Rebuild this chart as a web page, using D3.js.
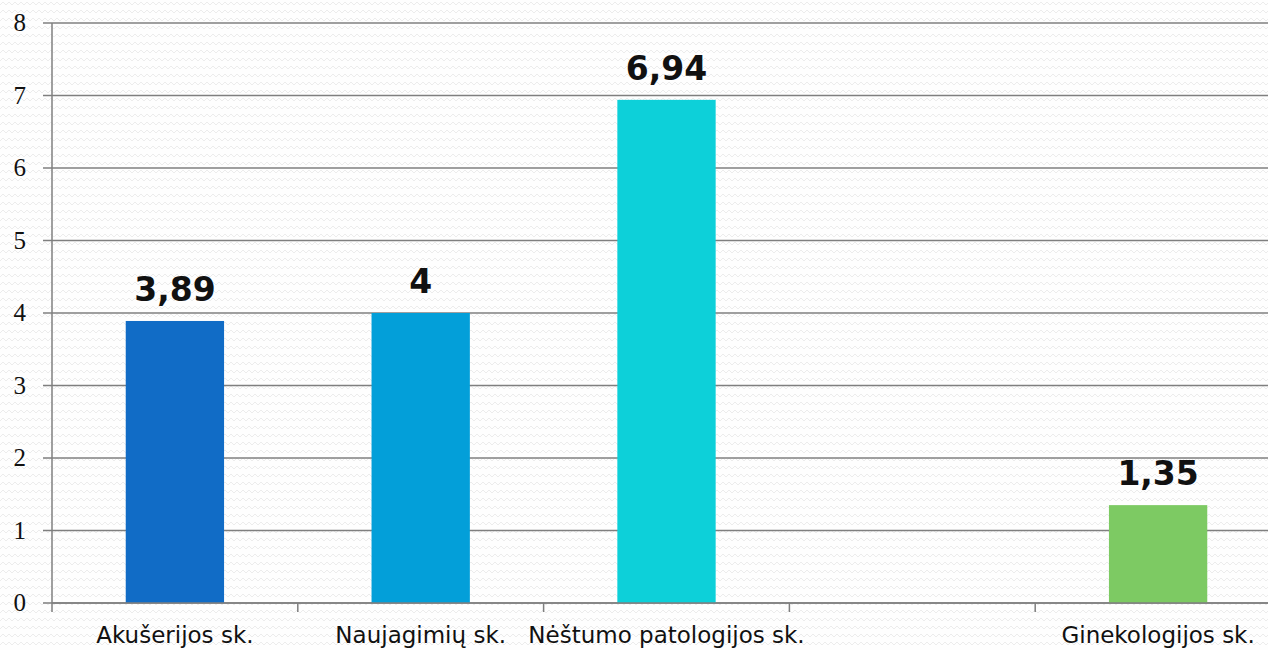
<!DOCTYPE html>
<html>
<head>
<meta charset="utf-8">
<script src="https://cdn.jsdelivr.net/npm/d3@7"></script>
<style>
  body { margin: 0; background: #fdfdfd; }
  svg { display: block; }
</style>
</head>
<body>
<svg id="chart" width="1268" height="650"></svg>
<script>
// data
categories = ['Akušerijos sk.', 'Naujagimių sk.', 'Nėštumo patologijos sk.', '', 'Ginekologijos sk.']
values = [3.89, 4, 6.94, null, 1.35]
valueLabels = ['3,89', '4', '6,94', '', '1,35']
barColors = ['#116cc6', '#039fd9', '#0dd0d9', '#ffffff', '#7dca63']
yTicks = [0, 1, 2, 3, 4, 5, 6, 7, 8]

svgWidth = 1268
svgHeight = 650
svg = d3.select('#chart')

// faint zigzag backdrop
defs = svg.append('defs')
pat = defs.append('pattern')
	.attr('id', 'zig')
	.attr('width', 12)
	.attr('height', 8)
	.attr('patternUnits', 'userSpaceOnUse')
pat.append('rect').attr('width', 12).attr('height', 8).attr('fill', '#fefefe')
pat.append('path')
	.attr('d', 'M0,5 L3,2 L6,5 L9,2 L12,5')
	.style('fill', 'none')
	.style('stroke', '#ececec')
	.attr('stroke-width', 1)
svg.append('rect').attr('width', svgWidth).attr('height', svgHeight).attr('fill', 'url(#zig)')

yScale = d3.scaleLinear()
	.domain([0, 8])
	.range([603, 23])

xScale = d3.scaleBand()
	.domain(d3.range(categories.length))
	.range([52, 1281])
	.paddingInner(0.6)
	.paddingOuter(0.3)

slotScale = d3.scaleBand()
	.domain(d3.range(categories.length))
	.range([52, 1281])

// gridlines
svg.append('g')
	.selectAll('line')
	.data(yTicks)
	.enter()
	.append('line')
	.attr('x1', 43)
	.attr('x2', svgWidth)
	.attr('y1', d => yScale(d))
	.attr('y2', d => yScale(d))
	.style('stroke', '#7f7f7f')
	.attr('stroke-width', 1.5)

// y tick labels
svg.append('g')
	.selectAll('text')
	.data(yTicks)
	.enter()
	.append('text')
	.attr('x', 26)
	.attr('y', d => yScale(d) + 8)
	.style('text-anchor', 'end')
	.style('font-family', '"Liberation Serif", "DejaVu Serif", serif')
	.style('font-size', '25px')
	.style('fill', '#111')
	.text(d => d)

// bars
svg.append('g')
	.selectAll('rect')
	.data(values)
	.enter()
	.filter(d => d != null)
	.append('rect')
	.attr('x', (d, i) => xScale(values.indexOf(d)))
	.attr('y', d => yScale(d))
	.attr('width', xScale.bandwidth())
	.attr('height', d => yScale(0) - yScale(d))
	.style('fill', d => barColors[values.indexOf(d)])

// axes lines drawn over bars
svg.append('line')
	.attr('x1', 52).attr('x2', 52)
	.attr('y1', yScale(8)).attr('y2', yScale(0) + 9)
	.style('stroke', '#7f7f7f').attr('stroke-width', 1.5)
svg.append('line')
	.attr('x1', 52).attr('x2', svgWidth)
	.attr('y1', yScale(0)).attr('y2', yScale(0))
	.style('stroke', '#7f7f7f').attr('stroke-width', 1.5)
svg.append('g')
	.selectAll('line')
	.data(d3.range(1, categories.length))
	.enter()
	.append('line')
	.attr('x1', d => slotScale(d))
	.attr('x2', d => slotScale(d))
	.attr('y1', yScale(0))
	.attr('y2', yScale(0) + 9)
	.style('stroke', '#7f7f7f')
	.attr('stroke-width', 1.5)

// value labels
svg.append('g')
	.selectAll('text')
	.data(values)
	.enter()
	.append('text')
	.attr('x', (d, i) => xScale(i) + xScale.bandwidth() / 2)
	.attr('y', d => d == null ? 0 : yScale(d) - 20)
	.style('text-anchor', 'middle')
	.style('font-family', '"DejaVu Sans", sans-serif')
	.style('font-weight', 'bold')
	.style('font-size', '33px')
	.style('fill', '#111')
	.text((d, i) => valueLabels[i])

// category labels
svg.append('g')
	.selectAll('text')
	.data(categories)
	.enter()
	.append('text')
	.attr('x', (d, i) => xScale(i) + xScale.bandwidth() / 2)
	.attr('y', 643)
	.style('text-anchor', 'middle')
	.style('font-family', '"DejaVu Sans", sans-serif')
	.style('font-size', '23px')
	.style('fill', '#111')
	.text(d => d)
</script>
</body>
</html>
